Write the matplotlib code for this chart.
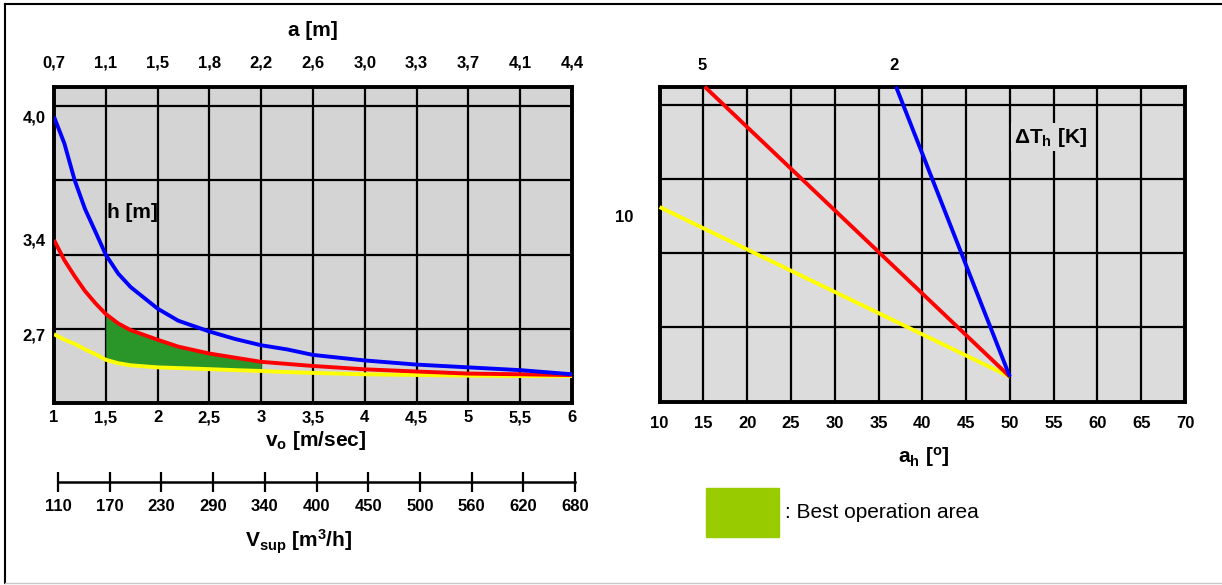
import numpy as np
import matplotlib
matplotlib.use("Agg")
import matplotlib.pyplot as plt
from matplotlib.lines import Line2D
from matplotlib.patches import Rectangle

plt.rcParams['font.family'] = ['Liberation Sans', 'DejaVu Sans']
plt.rcParams['mathtext.fontset'] = 'custom'
plt.rcParams['mathtext.rm'] = 'Liberation Sans'
plt.rcParams['mathtext.bf'] = 'Liberation Sans:bold'
plt.rcParams['mathtext.it'] = 'Liberation Sans:italic'

# left chart: outlet height h against supply velocity v_o
v_ticks = [1, 1.5, 2, 2.5, 3, 3.5, 4, 4.5, 5, 5.5, 6]
v_labels = ['1', '1,5', '2', '2,5', '3', '3,5', '4', '4,5', '5', '5,5', '6']
a_labels = ['0,7', '1,1', '1,5', '1,8', '2,2', '2,6', '3,0', '3,3', '3,7', '4,1', '4,4']
vsup_labels = ['110', '170', '230', '290', '340', '400', '450', '500', '560', '620', '680']
h_ticks = [2.7, 3.4, 4.0]
h_labels = ['2,7', '3,4', '4,0']

v = np.array([1.0, 1.1, 1.2, 1.3, 1.4, 1.5, 1.62, 1.74, 2.0, 2.2, 2.5, 2.75,
              3.0, 3.25, 3.5, 4.0, 4.5, 5.0, 5.5, 6.0])
h_blue = [4.00, 3.87, 3.69, 3.55, 3.44, 3.29, 3.15, 3.05, 2.89, 2.80, 2.72, 2.665,
          2.62, 2.59, 2.55, 2.51, 2.48, 2.46, 2.44, 2.41]
h_red = [3.40, 3.25, 3.13, 3.02, 2.93, 2.85, 2.78, 2.73, 2.66, 2.61, 2.56, 2.53,
         2.50, 2.485, 2.47, 2.446, 2.43, 2.415, 2.41, 2.404]
h_yellow = [2.70, 2.66, 2.63, 2.59, 2.555, 2.515, 2.49, 2.475, 2.46, 2.455, 2.447, 2.44,
            2.434, 2.426, 2.42, 2.41, 2.405, 2.40, 2.397, 2.397]
best_from, best_to = 1.5, 3.0

# right chart: temperature difference lines against angle a_h
dT = [10, 5, 2]
ah_start = [10, 15.15, 37]
y_start = [2.62, 4.24, 4.24]
ah_end = 50
y_end = 0.336
line_colors = ['#ffff00', '#ff0000', '#0000ff']
ah_ticks = list(range(10, 75, 5))

# the h axis of the nomogram is not linear
H_ref = [2.2, 2.7, 3.4, 4.0, 4.15]
U_ref = [0.0, 0.93, 2.198, 3.857, 4.261]


def fwd(h):
    return np.interp(h, H_ref, U_ref)


def inv(u):
    return np.interp(u, U_ref, H_ref)


W, H = 1222, 585
fig = plt.figure(figsize=(W / 100, H / 100), dpi=100)


def fx(x):
    return x / W


def fy(y):
    return 1 - y / H


tick_font = dict(fontsize=12, fontweight='bold')
title_font = dict(fontsize=15, fontweight='bold')
LW = 2.8

# ---- left chart ----
ax1 = fig.add_axes([fx(54), fy(403.3), fx(572) - fx(54), fy(86.7) - fy(403.3)])
ax1.set_facecolor('#d4d4d4')
ax1.set_yscale('function', functions=(fwd, inv))
ax1.set_xlim(1, 6)
ax1.set_ylim(2.2, 4.15)
ax1.set_xticks(v_ticks, v_labels, **tick_font)
ax1.set_yticks(h_ticks, h_labels, **tick_font)
ax1.set_yticks(inv(np.arange(1, 5)), minor=True)
ax1.yaxis.set_minor_formatter(plt.NullFormatter())
ax1.tick_params(axis='both', which='both', length=0)
ax1.tick_params(axis='x', pad=5)
ax1.tick_params(axis='y', pad=6)
ax1.xaxis.grid(True, which='major', color='black', lw=1.6)
ax1.yaxis.grid(True, which='minor', color='black', lw=1.6)
for s in ax1.spines.values():
    s.set_linewidth(2.8)

mask = (v >= best_from) & (v <= best_to)
ax1.fill_between(v, h_yellow, h_red, where=mask, color='#2a962a', lw=0, zorder=2)
ax1.plot(v, h_yellow, color='#ffff00', lw=LW, zorder=3, solid_capstyle='butt')
ax1.plot(v, h_red, color='#ff0000', lw=LW, zorder=4, solid_capstyle='butt')
ax1.plot(v, h_blue, color='#0000ff', lw=LW, zorder=5, solid_capstyle='butt')

axt = ax1.twiny()
axt.set_xlim(1, 6)
axt.set_xticks(v_ticks, a_labels, **tick_font)
axt.tick_params(axis='x', length=0, pad=12)
for s in axt.spines.values():
    s.set_visible(False)

# supply volume scale under the chart
ax3 = fig.add_axes([fx(58), fy(482), fx(575) - fx(58), 0.0001])
ax3.set_xlim(1, 6)
ax3.set_xticks(v_ticks, vsup_labels, **tick_font)
ax3.set_yticks([])
for side in ['top', 'left', 'right']:
    ax3.spines[side].set_visible(False)
ax3.spines['bottom'].set_linewidth(1.8)
ax3.tick_params(axis='x', direction='inout', length=14, width=1.6, pad=5)
ax3.patch.set_visible(False)

fig.text(fx(313), fy(31), 'a [m]', ha='center', va='center', **title_font)
fig.text(fx(107), fy(212), 'h [m]', ha='left', va='center', **title_font)
fig.text(fx(316), fy(440), r'$\mathbf{v_o}$ [m/sec]', ha='center', va='center', **title_font)
fig.text(fx(299), fy(542), r'$\mathbf{V_{sup}}$ [m$\mathbf{^3}$/h]', ha='center', va='center',
         **title_font)

# ---- right chart ----
ax2 = fig.add_axes([fx(659.6), fy(401.7), fx(1185) - fx(659.6), fy(86.7) - fy(401.7)])
ax2.set_facecolor('#dcdcdc')
ax2.set_xlim(10, 70)
ax2.set_ylim(0, 4.24)
ax2.set_xticks(ah_ticks, [str(t) for t in ah_ticks], **tick_font)
ax2.set_yticks([1, 2, 3, 4], [])
ax2.tick_params(axis='both', length=0)
ax2.tick_params(axis='x', pad=10)
ax2.grid(True, color='black', lw=1.6)
for s in ax2.spines.values():
    s.set_linewidth(2.8)

for d, a0, y0, c in zip(dT, ah_start, y_start, line_colors):
    ax2.plot([a0, ah_end], [y0, y_end], color=c, lw=LW, zorder=3, clip_on=False,
             solid_capstyle='butt')
    if a0 == ax2.get_xlim()[0]:
        ax2.annotate(str(d), (a0, y0), xytext=(-25.6, -7.2), textcoords='offset points',
                     ha='center', va='center', annotation_clip=False, **tick_font)
    else:
        ax2.annotate(str(d), (a0, y0), xytext=(-1.5, 15.6), textcoords='offset points',
                     ha='center', va='center', annotation_clip=False, **tick_font)

ax2.text(fx(1014), fy(137), r'$\mathbf{\Delta T_h}$ [K]', transform=fig.transFigure,
         ha='left', va='center', zorder=6,
         bbox=dict(facecolor='#dcdcdc', edgecolor='none', pad=2), **title_font)
fig.text(fx(924), fy(457), r'$\mathbf{a_h}$ [$\mathbf{^o}$]', ha='center', va='center',
         **title_font)

# legend for the green area
fig.add_artist(Rectangle((fx(706), fy(537)), fx(73), fy(488) - fy(537),
                         transform=fig.transFigure, color='#99cc00'))
fig.text(fx(785), fy(513), ': Best operation area', ha='left', va='center', fontsize=15)

# outer frame
fig.add_artist(Line2D([fx(5), fx(5)], [fy(583), fy(4)], color='black', lw=1.5,
                      transform=fig.transFigure))
fig.add_artist(Line2D([fx(5), 1], [fy(4), fy(4)], color='black', lw=1.5,
                      transform=fig.transFigure))
fig.add_artist(Line2D([fx(5), 1], [fy(583), fy(583)], color='#c8c8c8', lw=1,
                      transform=fig.transFigure))

fig.savefig('out.png', dpi=100)
